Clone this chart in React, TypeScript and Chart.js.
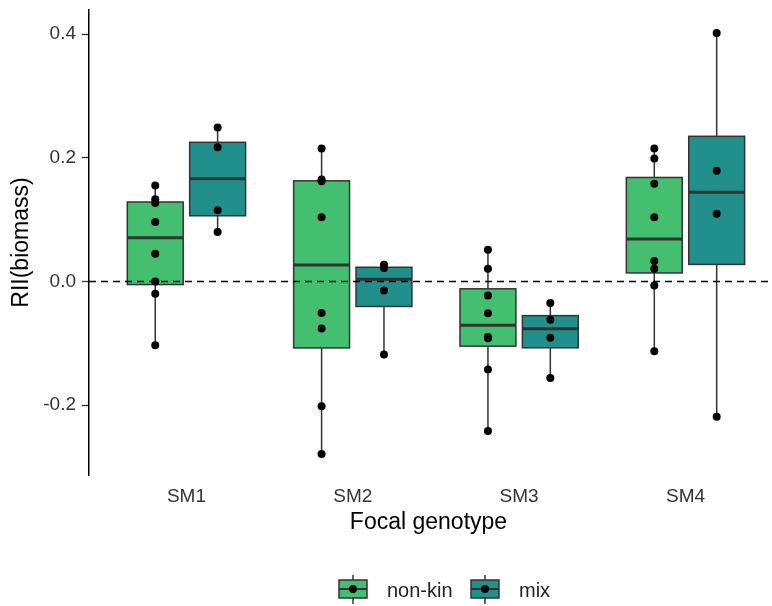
import React, { useEffect, useRef } from 'react';
import { Chart, registerables } from 'chart.js';

Chart.register(...registerables);

// ---- data ----
const categories = ['SM1', 'SM2', 'SM3', 'SM4'];
const seriesNames = ['non-kin', 'mix'];
const seriesColors = ['#44BF70', '#21908C'];

// individual observations per focal genotype
const nonKinValues: number[][] = [
  [0.155, 0.133, 0.127, 0.096, 0.045, 0.0, -0.02, -0.103],
  [0.215, 0.165, 0.162, 0.104, -0.051, -0.076, -0.202, -0.279],
  [0.0513, 0.0205, -0.0227, -0.0513, -0.09, -0.092, -0.1425, -0.242],
  [0.215, 0.1987, 0.158, 0.104, 0.033, 0.0205, -0.0065, -0.113],
];
const mixValues: number[][] = [
  [0.249, 0.217, 0.115, 0.08],
  [0.027, 0.0216, -0.0146, -0.118],
  [-0.035, -0.062, -0.091, -0.156],
  [0.402, 0.179, 0.1096, -0.2186],
];
const seriesValues = [nonKinValues, mixValues];
const yTicks = [-0.2, 0.0, 0.2, 0.4];
const referenceLine = 0;

const FONT = "'Liberation Sans', Arial, Helvetica, sans-serif";
const DODGE = 0.375; // offset between the two boxes in one category
const HALF_BOX = 0.168;

function quantile(sorted: number[], p: number) {
  const pos = (sorted.length - 1) * p;
  const lo = Math.floor(pos);
  const hi = Math.ceil(pos);
  return sorted[lo] + (sorted[hi] - sorted[lo]) * (pos - lo);
}

function boxStats(vals: number[]) {
  const s = [...vals].sort((a, b) => a - b);
  const q1 = quantile(s, 0.25);
  const med = quantile(s, 0.5);
  const q3 = quantile(s, 0.75);
  const iqr = q3 - q1;
  const lo = Math.min(...s.filter((v) => v >= q1 - 1.5 * iqr));
  const hi = Math.max(...s.filter((v) => v <= q3 + 1.5 * iqr));
  return { q1, med, q3, lo, hi };
}

const offsetFor = (s: number) => (s - 0.5) * DODGE;

const boxPlugin = {
  id: 'boxes',
  beforeDatasetsDraw(chart: any) {
    const { ctx, scales, chartArea } = chart;
    const x = scales.x;
    const y = scales.y;
    ctx.save();
    seriesValues.forEach((series, s) => {
      series.forEach((vals, i) => {
        const st = boxStats(vals);
        const c = i + 1 + offsetFor(s);
        const xl = x.getPixelForValue(c - HALF_BOX);
        const xr = x.getPixelForValue(c + HALF_BOX);
        const xc = x.getPixelForValue(c);
        const yq1 = y.getPixelForValue(st.q1);
        const yq3 = y.getPixelForValue(st.q3);
        const ym = y.getPixelForValue(st.med);
        const ylo = y.getPixelForValue(st.lo);
        const yhi = y.getPixelForValue(st.hi);
        // whiskers
        ctx.strokeStyle = '#333333';
        ctx.lineWidth = 1.5;
        ctx.beginPath();
        ctx.moveTo(xc, yq3);
        ctx.lineTo(xc, yhi);
        ctx.moveTo(xc, yq1);
        ctx.lineTo(xc, ylo);
        ctx.stroke();
        // box
        ctx.fillStyle = seriesColors[s];
        ctx.fillRect(xl, yq3, xr - xl, yq1 - yq3);
        ctx.strokeStyle = '#333333';
        ctx.lineWidth = 1.5;
        ctx.strokeRect(xl, yq3, xr - xl, yq1 - yq3);
        // median
        ctx.lineWidth = 3;
        ctx.beginPath();
        ctx.moveTo(xl, ym);
        ctx.lineTo(xr, ym);
        ctx.stroke();
      });
    });
    // dashed reference line
    const y0 = y.getPixelForValue(referenceLine);
    ctx.strokeStyle = '#000000';
    ctx.lineWidth = 1.5;
    ctx.setLineDash([7, 5]);
    ctx.beginPath();
    ctx.moveTo(chartArea.left, y0);
    ctx.lineTo(chartArea.right, y0);
    ctx.stroke();
    ctx.setLineDash([]);
    ctx.restore();
  },
};

const legendPlugin = {
  id: 'ggLegend',
  afterDraw(chart: any) {
    const { ctx } = chart;
    const cy = chart.height - 17;
    const keyW = 28;
    const keyH = 18;
    const starts = [339, 471];
    ctx.save();
    ctx.font = `20px ${FONT}`;
    ctx.textBaseline = 'middle';
    ctx.textAlign = 'left';
    seriesNames.forEach((name, s) => {
      const kx = starts[s];
      const kc = kx + keyW / 2;
      ctx.strokeStyle = '#333333';
      ctx.lineWidth = 1.5;
      ctx.beginPath();
      ctx.moveTo(kc, cy - 14);
      ctx.lineTo(kc, cy + 15);
      ctx.stroke();
      ctx.fillStyle = seriesColors[s];
      ctx.fillRect(kx, cy - keyH / 2, keyW, keyH);
      ctx.strokeRect(kx, cy - keyH / 2, keyW, keyH);
      ctx.lineWidth = 2;
      ctx.beginPath();
      ctx.moveTo(kx, cy);
      ctx.lineTo(kx + keyW, cy);
      ctx.stroke();
      ctx.fillStyle = '#000000';
      ctx.beginPath();
      ctx.arc(kc, cy, 4, 0, Math.PI * 2);
      ctx.fill();
      ctx.fillStyle = '#222222';
      ctx.fillText(name, kx + keyW + 20, cy + 2);
    });
    ctx.restore();
  },
};

export default function App() {
  const canvasRef = useRef<HTMLCanvasElement | null>(null);

  useEffect(() => {
    if (!canvasRef.current) return;
    Chart.defaults.font.family = FONT;
    const datasets = seriesValues.map((series, s) => ({
      type: 'scatter' as const,
      label: seriesNames[s],
      data: series.flatMap((vals, i) => vals.map((v) => ({ x: i + 1 + offsetFor(s), y: v }))),
      backgroundColor: '#000000',
      borderWidth: 0,
      pointRadius: 4,
      pointHoverRadius: 4,
    }));

    const chart = new Chart(canvasRef.current, {
      type: 'scatter',
      data: { datasets },
      options: {
        animation: false,
        responsive: false,
        devicePixelRatio: 1,
        layout: { padding: { top: 10, right: 0, bottom: 56, left: 0 } },
        plugins: { legend: { display: false }, tooltip: { enabled: false } },
        scales: {
          x: {
            type: 'linear',
            min: 0.4143,
            max: 4.496,
            grid: { display: false, drawTicks: false },
            border: { display: false },
            afterBuildTicks: (scale: any) => {
              scale.ticks = categories.map((_, i) => ({ value: i + 1 }));
            },
            afterFit: (scale: any) => {
              scale.height = 75;
              scale.paddingLeft = 0;
              scale.paddingRight = 0;
            },
            ticks: {
              autoSkip: false,
              maxRotation: 0,
              padding: 10,
              color: '#333333',
              font: { size: 19 },
              callback: (v: any) => categories[Math.round(Number(v)) - 1] ?? '',
            },
            title: {
              display: true,
              text: 'Focal genotype',
              color: '#000000',
              font: { size: 23 },
              padding: { top: 0, bottom: 14 },
            },
          },
          y: {
            type: 'linear',
            min: -0.313,
            max: 0.439,
            afterBuildTicks: (scale: any) => {
              scale.ticks = yTicks.map((v) => ({ value: v }));
            },
            afterFit: (scale: any) => {
              scale.width = 89;
              scale.paddingTop = 0;
              scale.paddingBottom = 0;
            },
            grid: {
              display: true,
              drawOnChartArea: false,
              drawTicks: true,
              tickLength: 7,
              color: '#333333',
              tickWidth: 1.3,
            },
            border: { display: true, color: '#000000', width: 1.5 },
            ticks: {
              padding: 6,
              color: '#333333',
              font: { size: 19 },
              callback: (v: any) => Number(v).toFixed(1),
            },
            title: {
              display: true,
              text: 'RII(biomass)',
              color: '#000000',
              font: { size: 23 },
              padding: { top: 8, bottom: 0 },
            },
          },
        },
      },
      plugins: [boxPlugin, legendPlugin],
    });
    return () => chart.destroy();
  }, []);

  return (
    <div style={{ position: 'fixed', left: 0, top: 0, width: 772, height: 606, background: '#ffffff' }}>
      <canvas ref={canvasRef} width={772} height={606} style={{ display: 'block' }} />
    </div>
  );
}
